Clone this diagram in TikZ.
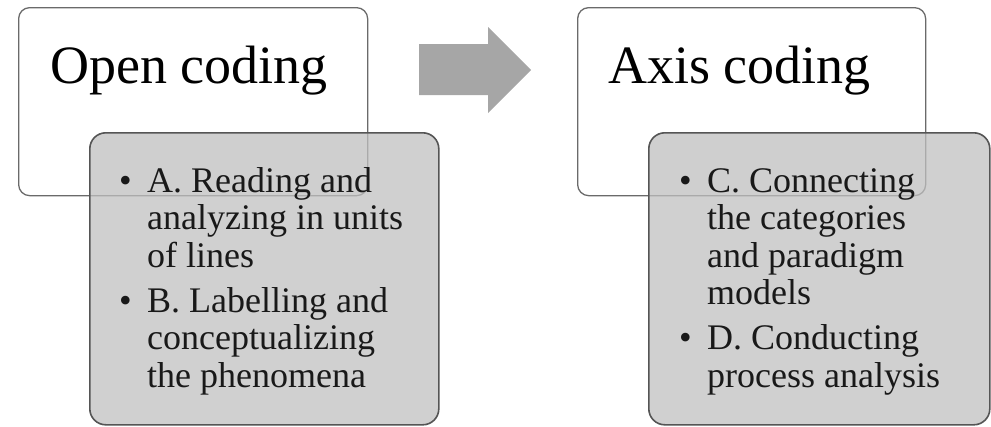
\documentclass[tikz,border=0pt]{standalone}
\usepackage{fontspec}
\setmainfont{Liberation Serif}
\definecolor{boxline}{HTML}{6A6A6A}
\definecolor{grayline}{HTML}{555555}
\definecolor{grayfill}{HTML}{C0C0C0}
\definecolor{arrowfill}{HTML}{A6A6A6}
\newcommand{\bl}{\makebox[28pt][l]{•}}
\newcommand{\ind}{\hspace*{28pt}}
\tikzset{
  whitebox/.style={draw=boxline, line width=1.3pt, fill=white, rounded corners=11pt, inner sep=0pt, anchor=north west},
  graybox/.style={draw=grayline, line width=1.6pt, fill=grayfill, fill opacity=0.75, rounded corners=16pt, inner sep=0pt, anchor=north west},
  titletext/.style={font=\fontsize{54}{60}\selectfont, inner sep=0pt, anchor=base west},
  bullettext/.style={font=\fontsize{36}{37.5}\selectfont, inner sep=0pt, anchor=base west, align=left, text=black!90},
}
\begin{document}
\begin{tikzpicture}[x=1pt,y=-1pt]
\useasboundingbox (0,0) rectangle (991,426);
% left
\node[whitebox, minimum width=349pt, minimum height=188pt] (openbox) at (18,7) {};
\node[titletext] (opentitle) at (50,83) {Open coding};
\node[graybox, minimum width=349pt, minimum height=292pt] (openlist) at (89,132) {};
\node[bullettext] (opentext) at (119,387) {\bl A. Reading and\\ \ind analyzing in units\\ \ind of lines\\[7.5pt] \bl B. Labelling and\\ \ind conceptualizing\\ \ind the phenomena};
% arrow
\fill[arrowfill] (419,44) -- (488,44) -- (488,27) -- (531,70) -- (488,113) -- (488,95) -- (419,95) -- cycle;
% right
\node[whitebox, minimum width=348pt, minimum height=188pt] (axisbox) at (577,7) {};
\node[titletext] (axistitle) at (608,83) {Axis coding};
\node[graybox, minimum width=341pt, minimum height=292pt] (axislist) at (648,132) {};
\node[bullettext] (axistext) at (679,387) {\bl C. Connecting\\ \ind the categories\\ \ind and paradigm\\ \ind models\\[7.5pt] \bl D. Conducting\\ \ind process analysis};
\end{tikzpicture}
\end{document}
